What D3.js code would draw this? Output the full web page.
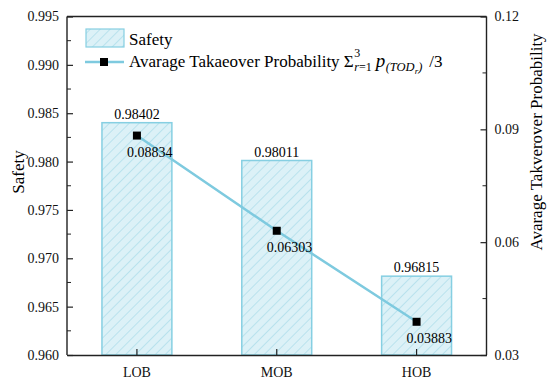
<!DOCTYPE html>
<html>
<head>
<meta charset="utf-8">
<script src="https://cdn.jsdelivr.net/npm/d3@7/dist/d3.min.js"></script>
<style>
  body { margin: 0; background: #fff; }
</style>
</head>
<body>
<svg id="chart" width="550" height="380"></svg>
<script>
// chart data
const categories = ["LOB", "MOB", "HOB"];
const safety = [0.98402, 0.98011, 0.96815];
const takeover = [0.08834, 0.06303, 0.03883];
const leftTicks = [0.960, 0.965, 0.970, 0.975, 0.980, 0.985, 0.990, 0.995];
const rightTicks = [0.03, 0.06, 0.09, 0.12];

const FONT = '"Liberation Serif"';

const svg = d3.select("svg#chart"),
    margin = {top: 16.5, right: 63.5, bottom: 25, left: 67},
    width = +svg.attr("width") - margin.left - margin.right,
    height = +svg.attr("height") - margin.top - margin.bottom;

const barColor = "#86cfe2",
    lineColor = "#7ecadf";

// hatch pattern for the bars
const defs = svg.append("defs");
const pat = defs.append("pattern")
    .attr("id", "hatch")
    .attr("patternUnits", "userSpaceOnUse")
    .attr("width", 7).attr("height", 7)
    .attr("patternTransform", "rotate(45)");
pat.append("rect").attr("width", 7).attr("height", 7).attr("fill", "#dcf1f7");
pat.append("line")
    .attr("x1", 0).attr("y1", 0).attr("x2", 0).attr("y2", 7)
    .attr("stroke", "#9dd6e6").attr("stroke-width", 1.1);

const g = svg.append("g").attr("transform", `translate(${margin.left},${margin.top})`);

const x = d3.scaleBand().domain(categories).range([0, width]).paddingInner(0.5).paddingOuter(0.25);
const xc = d => x(d) + x.bandwidth() / 2;
const y = d3.scaleLinear().domain([0.960, 0.995]).range([height, 0]);
const y2 = d3.scaleLinear().domain([0.03, 0.12]).range([height, 0]);

// bars
g.selectAll("rect.bar")
    .data(categories)
    .enter().append("rect")
        .attr("class", "bar")
        .attr("x", d => x(d))
        .attr("width", x.bandwidth())
        .attr("y", (d, i) => y(safety[i]))
        .attr("height", (d, i) => height - y(safety[i]))
        .attr("fill", "url(#hatch)")
        .attr("stroke", barColor)
        .attr("stroke-width", 1.5);

g.selectAll("text.barlabel")
    .data(categories)
    .enter().append("text")
        .attr("class", "barlabel")
        .attr("x", d => xc(d))
        .attr("y", (d, i) => y(safety[i]) - 4)
        .attr("text-anchor", "middle")
        .style("font-size", "14px")
        .style("font-family", FONT)
        .text((d, i) => safety[i].toFixed(5));

// line
const line = d3.line()
    .x((d, i) => xc(categories[i]))
    .y(d => y2(d));

g.append("path")
    .datum(takeover)
    .attr("d", line)
    .attr("fill", "none")
    .attr("stroke", lineColor)
    .attr("stroke-width", 2.5);

g.selectAll("rect.marker")
    .data(takeover)
    .enter().append("rect")
        .attr("class", "marker")
        .attr("x", (d, i) => xc(categories[i]) - 4)
        .attr("y", d => y2(d) - 4)
        .attr("width", 8).attr("height", 8)
        .attr("fill", "#000");

g.selectAll("text.linelabel")
    .data(takeover)
    .enter().append("text")
        .attr("class", "linelabel")
        .attr("x", (d, i) => xc(categories[i]) - 10)
        .attr("y", d => y2(d) + 21)
        .style("font-size", "14px")
        .style("font-family", FONT)
        .text(d => d.toFixed(5));

// axes
const leftMinor = d3.range(0.9625, 0.995, 0.005);
const rightMinor = [0.045, 0.075, 0.105];

const axisLeft = g.append("g")
    .call(d3.axisLeft(y).tickValues(leftTicks).tickSize(-6).tickPadding(8).tickFormat(d3.format(".3f")));
axisLeft.selectAll("line.minor")
    .data(leftMinor)
    .enter().append("line")
        .attr("x1", 0).attr("x2", 4)
        .attr("y1", d => y(d)).attr("y2", d => y(d))
        .attr("stroke", "#222");

const axisRight = g.append("g")
    .attr("transform", `translate(${width},0)`)
    .call(d3.axisRight(y2).tickValues(rightTicks).tickSize(-6).tickPadding(8).tickFormat(d3.format(".2f")));
axisRight.selectAll("line.minor")
    .data(rightMinor)
    .enter().append("line")
        .attr("x1", 0).attr("x2", -4)
        .attr("y1", d => y2(d)).attr("y2", d => y2(d))
        .attr("stroke", "#222");

const axisBottom = g.append("g")
    .attr("transform", `translate(0,${height})`)
    .call(d3.axisBottom(x).tickSize(-6).tickPadding(12).tickSizeOuter(0));

g.append("line")
    .attr("x1", 0).attr("x2", width).attr("y1", 0).attr("y2", 0)
    .attr("stroke", "#222").attr("stroke-width", 1.4);

[axisLeft, axisRight, axisBottom].forEach(a => {
    a.attr("font-family", "Liberation Serif").attr("font-size", 14);
    a.select(".domain").attr("stroke", "#222").attr("stroke-width", 1.4);
    a.selectAll(".tick line").attr("stroke", "#222").attr("stroke-width", 1.2);
    a.selectAll("text").attr("fill", "#111")
        .style("font-size", "14px").style("font-family", FONT);
});
axisLeft.select(".domain").attr("d", `M0,${height}V0`);
axisRight.select(".domain").attr("d", `M0,${height}V0`);

// axis titles
svg.append("text")
    .attr("transform", "translate(24,172) rotate(-90)")
    .attr("text-anchor", "middle")
    .style("font-size", "17px")
    .style("font-family", FONT)
    .text("Safety");

svg.append("text")
    .attr("transform", "translate(542,142) rotate(-90)")
    .attr("text-anchor", "middle")
    .style("font-size", "17px")
    .style("font-family", FONT)
    .text("Avarage Takverover Probability");

// legend
const legend = svg.append("g");
legend.append("rect")
    .attr("x", 86).attr("y", 29).attr("width", 38).attr("height", 18)
    .attr("fill", "url(#hatch)").attr("stroke", barColor).attr("stroke-width", 1.2);
legend.append("text")
    .attr("x", 129).attr("y", 45).style("font-size", "17px").style("font-family", FONT).text("Safety");

legend.append("line")
    .attr("x1", 85).attr("x2", 124).attr("y1", 62).attr("y2", 62)
    .attr("stroke", lineColor).attr("stroke-width", 2.5);
legend.append("rect")
    .attr("x", 100).attr("y", 58).attr("width", 8).attr("height", 8).attr("fill", "#000");

// legend formula, laid out piece by piece
const lt = legend.append("text")
    .attr("x", 129).attr("y", 67).style("font-size", "17px").style("font-family", FONT)
    .text("Avarage Takaeover Probability \u03A3");
let cx = 129 + lt.node().getComputedTextLength() + 0.5;
legend.append("text").attr("x", cx).attr("y", 57)
    .style("font-size", "12px").style("font-family", FONT).text("3");
const sub = legend.append("text").attr("x", cx).attr("y", 71)
    .style("font-size", "12px").style("font-family", FONT);
sub.append("tspan").style("font-style", "italic").text("r");
sub.append("tspan").text("=1");
cx += sub.node().getComputedTextLength() + 4;
const pt = legend.append("text").attr("x", cx).attr("y", 67)
    .style("font-size", "19px").style("font-family", FONT).style("font-style", "italic").text("p");
cx += pt.node().getComputedTextLength() + 0.5;
const ps = legend.append("text").attr("x", cx).attr("y", 71)
    .style("font-size", "12.5px").style("font-family", FONT).style("font-style", "italic");
ps.append("tspan").text("(TOD");
ps.append("tspan").attr("dy", 3).style("font-size", "9px").text("r");
ps.append("tspan").attr("dy", -3).text(")");
cx += ps.node().getComputedTextLength() + 7;
legend.append("text").attr("x", cx).attr("y", 67)
    .style("font-size", "17px").style("font-family", FONT).text("/3");
</script>
</body>
</html>
